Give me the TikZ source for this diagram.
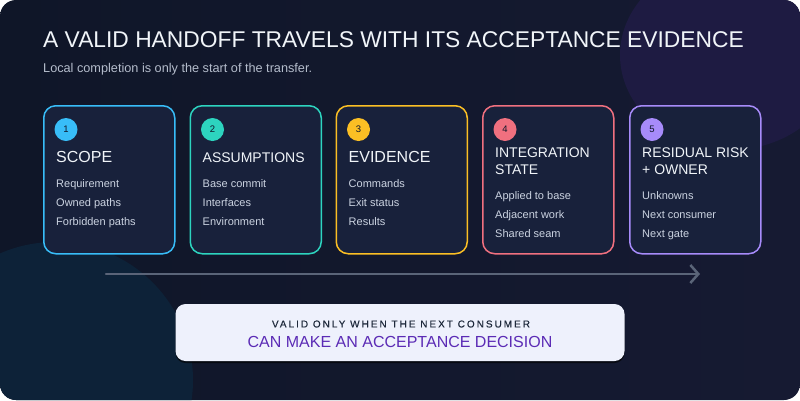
\documentclass[tikz,border=0pt]{standalone}
\usepackage{fontspec}
\setmainfont{Liberation Sans}
\newfontfamily\trackedfont[LetterSpace=20, FakeBold=0.4]{Liberation Sans}
\usetikzlibrary{arrows.meta,shadows}
\definecolor{bgleft}{HTML}{0F1628}
\definecolor{bgright}{HTML}{161A32}
\definecolor{glowviolet}{HTML}{1E1B42}
\definecolor{glowteal}{HTML}{0D2238}
\definecolor{cardfill}{HTML}{18213B}
\definecolor{titleink}{HTML}{F1F5F9}
\definecolor{subink}{HTML}{B4BCCB}
\definecolor{itemink}{HTML}{CBD3E1}
\definecolor{badgeink}{HTML}{0F172A}
\definecolor{flowgrey}{HTML}{5A6478}
\definecolor{verdictfill}{HTML}{EEF1FC}
\definecolor{verdictink}{HTML}{1E293B}
\definecolor{verdictpurple}{HTML}{5B2BB5}
\definecolor{stage1}{HTML}{38BDF8}
\definecolor{stage2}{HTML}{2DD4BF}
\definecolor{stage3}{HTML}{FBBF24}
\definecolor{stage4}{HTML}{F0707F}
\definecolor{stage5}{HTML}{A78BFA}
\tikzset{
    stagecard/.style = {draw = #1, line width = 1.5pt, fill = cardfill, rounded corners = 12pt,
        minimum width = 131pt, minimum height = 148pt, anchor = north west, inner sep = 0pt},
    stagebadge/.style = {circle, fill = #1, minimum size = 23pt, inner sep = 0pt, text = badgeink,
        font = \fontsize{9.5}{10}\selectfont},
    stagetitle/.style = {anchor = base west, inner sep = 0pt, text = titleink},
    stageitem/.style = {anchor = base west, inner sep = 0pt, text = itemink, font = \fontsize{11}{13}\selectfont},
    flowarrow/.style = {draw = flowgrey, line width = 2.5pt, line cap = round,
        -{Straight Barb[length = 8pt, width = 18pt]}},
    verdictbox/.style = {fill = verdictfill, rounded corners = 10pt, minimum width = 449pt, minimum height = 57pt,
        inner sep = 0pt, drop shadow = {shadow xshift = 0pt, shadow yshift = -2pt, opacity = 0.6, fill = black}}
}
\begin{document}
\begin{tikzpicture}[x = 1pt, y = -1pt]
        \useasboundingbox (0,0) rectangle (800,400);
        \fill[white] (0,0) rectangle (800,400);
        \shade[rounded corners = 16pt, left color = bgleft, right color = bgright] (0,0) rectangle (800,400);
        \begin{scope}
            \clip[rounded corners = 16pt] (0,0) rectangle (800,400);
            \fill[glowviolet] (730,55) ellipse [x radius = 110, y radius = 95];
            \fill[glowteal] (55,380) circle [radius = 138];
        \end{scope}
        \node[anchor = base west, inner sep = 0pt, text = titleink, font = \fontsize{22.8}{26}\selectfont] (headline) at (43,47.3)
            {A VALID HANDOFF TRAVELS WITH ITS ACCEPTANCE EVIDENCE};
        \node[anchor = base west, inner sep = 0pt, text = subink, font = \fontsize{12.7}{15}\selectfont] (subline) at (43,72.5)
            {Local completion is only the start of the transfer.};
        \foreach \i/\cx/\fs/\nl/\ttl/\items in {
                1/43/16/1/{SCOPE}/{Requirement,Owned paths,Forbidden paths},
                2/189.5/14/1/{ASSUMPTIONS}/{Base commit,Interfaces,Environment},
                3/335.5/16/1/{EVIDENCE}/{Commands,Exit status,Results},
                4/482/14/2/{INTEGRATION,STATE}/{Applied to base,Adjacent work,Shared seam},
                5/629/14/2/{RESIDUAL RISK,+ OWNER}/{Unknowns,Next consumer,Next gate}} {
            \node[stagecard = stage\i] (card\i) at (\cx,105) {};
            \node[stagebadge = stage\i] (badge\i) at (\cx+23,129.5) {\i};
            \foreach \tline [count = \j] in \ttl
                \node[stagetitle, font = \fontsize{\fs}{\fs}\selectfont] (title\i\j) at (\cx+13,{162-5*(\nl-1)+17*(\j-1)}) {\tline};
            \foreach \entry [count = \k] in \items
                \node[stageitem] (item\i\k) at (\cx+13,{187+12*(\nl-1)+19*(\k-1)}) {\entry};
        }
        \coordinate (flowstart) at (106,274);
        \coordinate (flowend) at (700,274);
        \draw[flowarrow] (flowstart) -- (flowend);
        \node[verdictbox] (verdict) at (400,332.5) {};
        \node[text = verdictink, font = \trackedfont\fontsize{10}{12}\selectfont] (verdicttop) at (401,324)
            {VALID ONLY WHEN THE NEXT CONSUMER};
        \node[text = verdictpurple, font = \fontsize{16}{18}\selectfont] (verdictmain) at (400,341.5)
            {CAN MAKE AN ACCEPTANCE DECISION};
    \end{tikzpicture}
\end{document}
